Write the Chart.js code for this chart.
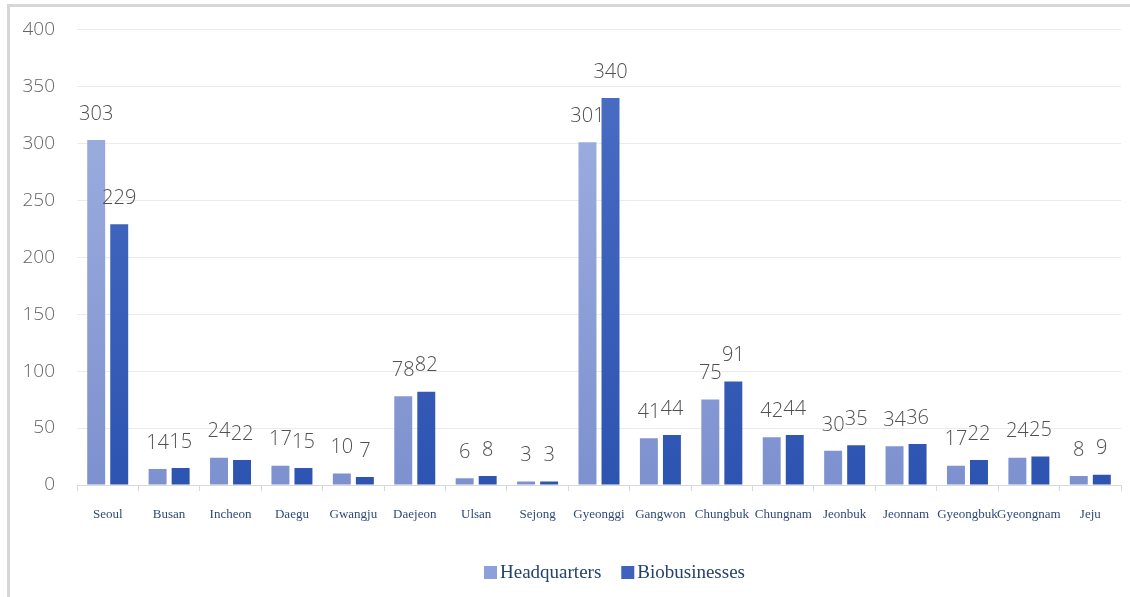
<!DOCTYPE html>
<html>
<head>
<meta charset="utf-8">
<script src="https://cdn.jsdelivr.net/npm/chart.js@4.4.1/dist/chart.umd.min.js"></script>
<style>
	html, body { margin: 0; padding: 0; background: #fff; }
	#wrap { position: relative; width: 1130px; height: 597px; }
	#frame { position: absolute; left: 7px; top: 4px; right: 0; bottom: 0; border-top: 3px solid #d6d6d6; border-left: 3px solid #d6d6d6; }
	#chart { position: absolute; left: 0; top: 0; }
</style>
</head>
<body>
<div id="wrap">
	<div id="frame"></div>
	<canvas id="chart" width="1130" height="597"></canvas>
</div>
<script>
var regions = ["Seoul", "Busan", "Incheon", "Daegu", "Gwangju", "Daejeon", "Ulsan", "Sejong", "Gyeonggi",
	"Gangwon", "Chungbuk", "Chungnam", "Jeonbuk", "Jeonnam", "Gyeongbuk", "Gyeongnam", "Jeju"];
var headquarters = [303, 14, 24, 17, 10, 78, 6, 3, 301, 41, 75, 42, 30, 34, 17, 24, 8];
var biobusinesses = [229, 15, 22, 15, 7, 82, 8, 3, 340, 44, 91, 44, 35, 36, 22, 25, 9];
var yTicks = [0, 50, 100, 150, 200, 250, 300, 350, 400];
var legendColors = ['#8ea0da', '#3f62bf'];

function fade(top, bottom, solid){
	return function(ctx){
		var area = ctx.chart.chartArea;
		if(!area) return solid;
		var g = ctx.chart.ctx.createLinearGradient(0, area.top, 0, area.bottom);
		g.addColorStop(0, top);
		g.addColorStop(1, bottom);
		return g;
	};
}

// numbers over the bars
var barLabels = {
	id: "barLabels",
	afterDatasetsDraw: function(chart){
		var c = chart.ctx;
		c.save();
		c.font = "300 20px 'Open Sans', 'Noto Sans', sans-serif";
		c.fillStyle = "#505050";
		c.textAlign = "center";
		c.textBaseline = "bottom";
		chart.data.datasets.forEach(function(ds, i){
			chart.getDatasetMeta(i).data.forEach(function(bar, j){
				c.fillText(ds.data[j], bar.x, bar.y - 16);
			});
		});
		c.restore();
	}
};

// legend sits a bit right of centre in the original
var sideLegend = {
	id: "sideLegend",
	afterDraw: function(chart){
		var c = chart.ctx;
		c.save();
		c.font = "19px 'Liberation Serif', 'Times New Roman', serif";
		c.textBaseline = "middle";
		var x = 484, y = 573;
		chart.data.datasets.forEach(function(ds, i){
			c.fillStyle = legendColors[i];
			c.fillRect(x, y - 7, 13, 13);
			x += 16;
			c.fillStyle = "#24426e";
			c.fillText(ds.label, x, y);
			x += c.measureText(ds.label).width + 20;
		});
		c.restore();
	}
};

var popCanvas = document.getElementById("chart");
var barChart = new Chart(popCanvas, {
	type: 'bar',
	data: {
		labels: regions,
		datasets: [
		{
			label: 'Headquarters',
			data: headquarters,
			backgroundColor: fade('#a3b3e2', '#7d91cf', legendColors[0]),
			categoryPercentage: 0.75,
			barPercentage: 0.78
		},
		{
			label: 'Biobusinesses',
			data: biobusinesses,
			backgroundColor: fade('#4d6fc6', '#2d54b1', legendColors[1]),
			categoryPercentage: 0.75,
			barPercentage: 0.78
		}]
	},
	options: {
		responsive: false,
		animation: false,
		layout: { padding: { top: 10, right: 9, bottom: 50, left: 0 } },
		plugins: {
			tooltip: { enabled: false },
			legend: { display: false }
		},
		scales: {
			x: {
				grid: { display: true, drawOnChartArea: false, drawTicks: true, tickLength: 6, color: '#d9d9d9' },
				border: { color: '#d9d9d9' },
				ticks: {
					padding: 16,
					maxRotation: 0,
					autoSkip: false,
					color: '#2e4a78',
					font: { family: "'Liberation Serif', 'Times New Roman', serif", size: 13 }
				},
				afterFit: function(scale){ scale.height = 62; }
			},
			y: {
				min: 0,
				max: 400,
				afterBuildTicks: function(scale){
					scale.ticks = yTicks.map(function(v){ return { value: v }; });
				},
				grid: { color: '#ebebeb', drawTicks: false },
				border: { display: false },
				ticks: {
					padding: 22,
					color: '#646464',
					font: { family: "'Open Sans', 'Noto Sans', sans-serif", size: 19, weight: '300', lineHeight: 0.8 }
				},
				afterFit: function(scale){ scale.width = 77; }
			}
		}
	},
	plugins: [barLabels, sideLegend]
});
</script>
</body>
</html>
